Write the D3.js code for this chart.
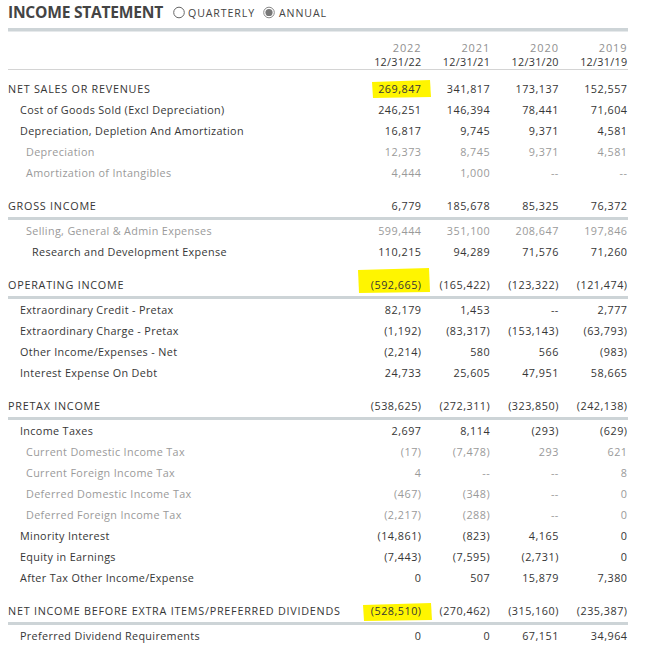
<!DOCTYPE html>
<html><head><meta charset="utf-8">
<script src="https://cdn.jsdelivr.net/npm/d3@7/dist/d3.min.js"></script>
<style>html,body{margin:0;padding:0;background:#fff;}svg{display:block;font-family:"Open Sans",sans-serif;}</style>
</head><body><svg id="c" width="645" height="653"></svg>
<script>
const years = ["2022","2021","2020","2019"];
const dates = ["12/31/22","12/31/21","12/31/20","12/31/19"];
const labels = [
 "NET SALES OR REVENUES","Cost of Goods Sold (Excl Depreciation)","Depreciation, Depletion And Amortization",
 "Depreciation","Amortization of Intangibles","GROSS INCOME","Selling, General & Admin Expenses",
 "Research and Development Expense","OPERATING INCOME","Extraordinary Credit - Pretax","Extraordinary Charge - Pretax",
 "Other Income/Expenses - Net","Interest Expense On Debt","PRETAX INCOME","Income Taxes","Current Domestic Income Tax",
 "Current Foreign Income Tax","Deferred Domestic Income Tax","Deferred Foreign Income Tax","Minority Interest",
 "Equity in Earnings","After Tax Other Income/Expense","NET INCOME BEFORE EXTRA ITEMS/PREFERRED DIVIDENDS",
 "Preferred Dividend Requirements"];
const v2022 = [269847,246251,16817,12373,4444,6779,599444,110215,-592665,82179,-1192,-2214,24733,-538625,2697,-17,4,-467,-2217,-14861,-7443,0,-528510,0];
const v2021 = [341817,146394,9745,8745,1000,185678,351100,94289,-165422,1453,-83317,580,25605,-272311,8114,-7478,null,-348,-288,-823,-7595,507,-270462,0];
const v2020 = [173137,78441,9371,9371,null,85325,208647,71576,-123322,null,-153143,566,47951,-323850,-293,293,null,null,null,4165,-2731,15879,-315160,67151];
const v2019 = [152557,71604,4581,4581,null,76372,197846,71260,-121474,2777,-63793,-983,58665,-242138,-629,621,8,0,0,0,0,7380,-235387,34964];
const series = [v2022,v2021,v2020,v2019];
// row kind: h = section header, a = item, b = grey sub item, r = deeper item
const kinds = ["h","a","a","b","b","h","b","r","h","a","a","a","a","h","a","b","b","b","b","a","a","a","h","a"];
const highlighted = [0,8,22];

const svg = d3.select("#c");
const L = 8, R = 628;
const dark = "#363636", grey = "#9a9a9a", rule = "#cdd4d7";

// title
svg.append("text").attr("x",L).attr("y",18).attr("font-size",15.6).attr("font-weight",700)
  .attr("fill","#444").attr("letter-spacing",-0.25).text("INCOME STATEMENT");
svg.append("circle").attr("cx",179).attr("cy",12.5).attr("r",5.3).attr("fill","#fff").attr("stroke","#666").attr("stroke-width",1);
svg.append("text").attr("x",188).attr("y",17).attr("font-size",10.6).attr("letter-spacing",0.9).attr("fill","#444").text("QUARTERLY");
svg.append("circle").attr("cx",269).attr("cy",12.5).attr("r",5.3).attr("fill","#fff").attr("stroke","#888").attr("stroke-width",1);
svg.append("circle").attr("cx",269).attr("cy",12.5).attr("r",3.6).attr("fill","#777");
svg.append("text").attr("x",279).attr("y",17).attr("font-size",10.6).attr("letter-spacing",0.9).attr("fill","#444").text("ANNUAL");
svg.append("rect").attr("x",L).attr("y",28).attr("width",R-L).attr("height",3.5).attr("fill",rule);

// columns
const x = d3.scalePoint().domain(years).range([421.5,627.5]);
const colG = svg.append("g");
years.forEach((y,i)=>{
  colG.append("text").attr("x",x(y)).attr("y",52).attr("text-anchor","end").attr("font-size",11)
    .attr("letter-spacing",0.9).attr("fill","#909090").text(y);
  colG.append("text").attr("x",x(y)).attr("y",65.5).attr("text-anchor","end").attr("font-size",10.8)
    .attr("letter-spacing",0.3).attr("fill",dark).text(dates[i]);
});
svg.append("rect").attr("x",L).attr("y",69).attr("width",R-L).attr("height",1).attr("fill","#d4d4d4");

// row baselines
const base = [];
let yy = 93;
kinds.forEach((k,i)=>{
  if(i>0){
    if(k==="h") yy += 33;
    else if(kinds[i-1]==="h" && i>1) yy += 25;
    else yy += 21;
  }
  base.push(yy);
});
const yRow = d3.scaleOrdinal().domain(d3.range(labels.length)).range(base);

const indent = {h:L, a:20, b:26, r:32};
const fmt = d3.format(",");
const show = v => v===null ? "--" : (v<0 ? "("+fmt(-v)+")" : fmt(v));

// highlights
const hl = {0:[372,80,58,17],8:[358,268,71,24],22:[363,603,68,17]};
highlighted.forEach(i=>{
  const b = hl[i];
  svg.append("path").attr("fill","#fff500")
    .attr("d",`M${b[0]},${b[1]+2} L${b[0]+b[2]},${b[1]} L${b[0]+b[2]+1},${b[1]+b[3]} L${b[0]+1},${b[1]+b[3]+1} Z`);
});

const rows = svg.append("g").selectAll("g").data(labels).join("g");
rows.append("text")
  .attr("x",(d,i)=>indent[kinds[i]]).attr("y",(d,i)=>yRow(i))
  .attr("font-size",10.8).attr("letter-spacing",(d,i)=>kinds[i]==="h"?0.75:0.35)
  .attr("fill",(d,i)=>kinds[i]==="b"?grey:dark).text(d=>d);
series.forEach((s,c)=>{
  rows.append("text")
    .attr("x",x(years[c])).attr("y",(d,i)=>yRow(i)).attr("text-anchor","end")
    .attr("font-size",10.8).attr("letter-spacing",0.5).attr("fill",(d,i)=>kinds[i]==="b"?grey:dark)
    .text((d,i)=>show(s[i]));
});
// thick rules under section headers (except the first)
kinds.forEach((k,i)=>{
  if(k==="h" && i>0){
    svg.append("rect").attr("x",L).attr("y",yRow(i)+7).attr("width",R-L).attr("height",3).attr("fill",rule);
  }
});
</script></body></html>
